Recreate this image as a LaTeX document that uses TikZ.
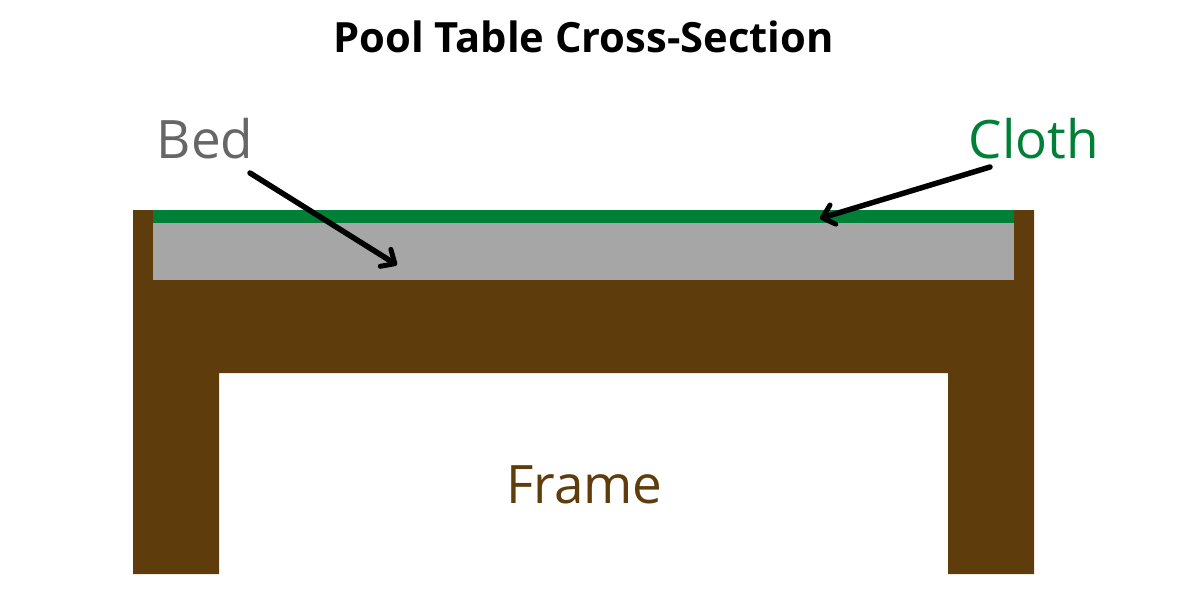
\documentclass[tikz,border=0pt]{standalone}
\usepackage{fontspec}
\setmainfont{Open Sans}
\usepackage{xcolor}
\usetikzlibrary{arrows.meta}
\definecolor{framebrown}{HTML}{5F3C0B}
\definecolor{bedgray}{HTML}{A6A6A6}
\definecolor{clothgreen}{HTML}{007F37}
\definecolor{labelgray}{HTML}{666666}
\tikzset{lbl/.style={inner sep=0pt,font=\fontsize{53pt}{53pt}\selectfont},
  pointer/.style={-{Straight Barb[length=11pt,width=20pt,line width=5pt,round]},line width=5.5pt,line cap=round}}
\begin{document}
\begin{tikzpicture}[x=1pt,y=-1pt]
\useasboundingbox (0,0) rectangle (1200,600);
\fill[framebrown] (133,210) -- (1034,210) -- (1034,574) -- (948,574) -- (948,373) -- (219,373) -- (219,574) -- (133,574) -- cycle;
\fill[bedgray] (153,223) rectangle (1014,280);
\fill[clothgreen] (153,210) rectangle (1014,223);
\node[inner sep=0pt,font=\fontsize{41.7pt}{41.7pt}\selectfont\bfseries] (title) at (583.5,37) {Pool Table Cross-Section};
\node[lbl,text=labelgray] (bed) at (205,138.5) {Bed};
\node[lbl,text=clothgreen] (cloth) at (1034,138.5) {Cloth};
\node[lbl,text=framebrown] (frame) at (584.5,484.5) {Frame};
\coordinate (bedtail) at (250,173);
\coordinate (bedtip) at (397,265);
\coordinate (clothtail) at (990,167);
\coordinate (clothtip) at (820,218.5);
\draw[pointer] (bedtail) -- (bedtip);
\draw[pointer] (clothtail) -- (clothtip);
\end{tikzpicture}
\end{document}
